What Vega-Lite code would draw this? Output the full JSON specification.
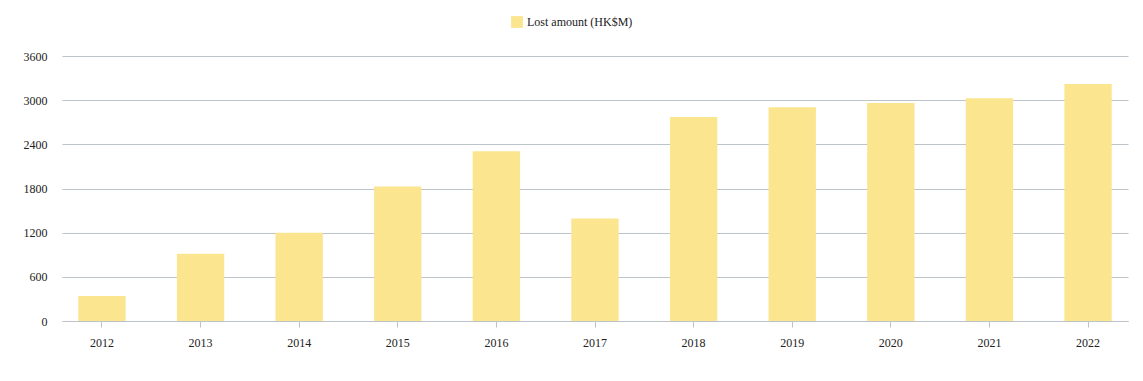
{
  "$schema": "https://vega.github.io/schema/vega-lite/v6.json",
  "autosize": "none",
  "width": 1066,
  "height": 265,
  "padding": {"left": 62, "top": 56, "right": 15, "bottom": 60},
  "background": "white",
  "config": {
    "view": {"stroke": null},
    "font": "Liberation Serif",
    "axis": {"labelFont": "Liberation Serif", "labelFontSize": 12, "labelColor": "#222222"},
    "legend": {"labelFont": "Liberation Serif", "labelFontSize": 12, "labelColor": "#222222"}
  },
  "data": {
    "values": [
      {"year": "2012", "series": "Lost amount (HK$M)", "amount": 341},
      {"year": "2013", "series": "Lost amount (HK$M)", "amount": 914},
      {"year": "2014", "series": "Lost amount (HK$M)", "amount": 1200},
      {"year": "2015", "series": "Lost amount (HK$M)", "amount": 1827},
      {"year": "2016", "series": "Lost amount (HK$M)", "amount": 2305},
      {"year": "2017", "series": "Lost amount (HK$M)", "amount": 1391},
      {"year": "2018", "series": "Lost amount (HK$M)", "amount": 2772},
      {"year": "2019", "series": "Lost amount (HK$M)", "amount": 2905},
      {"year": "2020", "series": "Lost amount (HK$M)", "amount": 2963},
      {"year": "2021", "series": "Lost amount (HK$M)", "amount": 3027},
      {"year": "2022", "series": "Lost amount (HK$M)", "amount": 3218}
    ]
  },
  "mark": {"type": "bar"},
  "encoding": {
    "x": {
      "field": "year",
      "type": "ordinal",
      "title": null,
      "scale": {"paddingInner": 0.52, "paddingOuter": 0.165},
      "axis": {
        "labelAngle": 0,
        "domainColor": "#bcc4c9",
        "tickColor": "#bcc4c9",
        "tickSize": 6,
        "labelPadding": 10,
        "grid": false
      }
    },
    "y": {
      "field": "amount",
      "type": "quantitative",
      "title": null,
      "scale": {"domain": [0, 3600], "nice": false},
      "axis": {
        "values": [0, 600, 1200, 1800, 2400, 3000, 3600],
        "format": "d",
        "ticks": false,
        "domain": false,
        "labelPadding": 15,
        "gridColor": "#bcc4c9",
        "gridWidth": 1.2,
        "gridOpacity": 1
      }
    },
    "color": {
      "field": "series",
      "type": "nominal",
      "title": null,
      "scale": {"range": ["#fbe58f"]},
      "legend": {
        "orient": "none",
        "legendX": 449,
        "legendY": -40,
        "symbolType": "square",
        "symbolSize": 140,
        "symbolStrokeWidth": 0,
        "symbolOpacity": 1,
        "labelOffset": 4
      }
    }
  }
}
